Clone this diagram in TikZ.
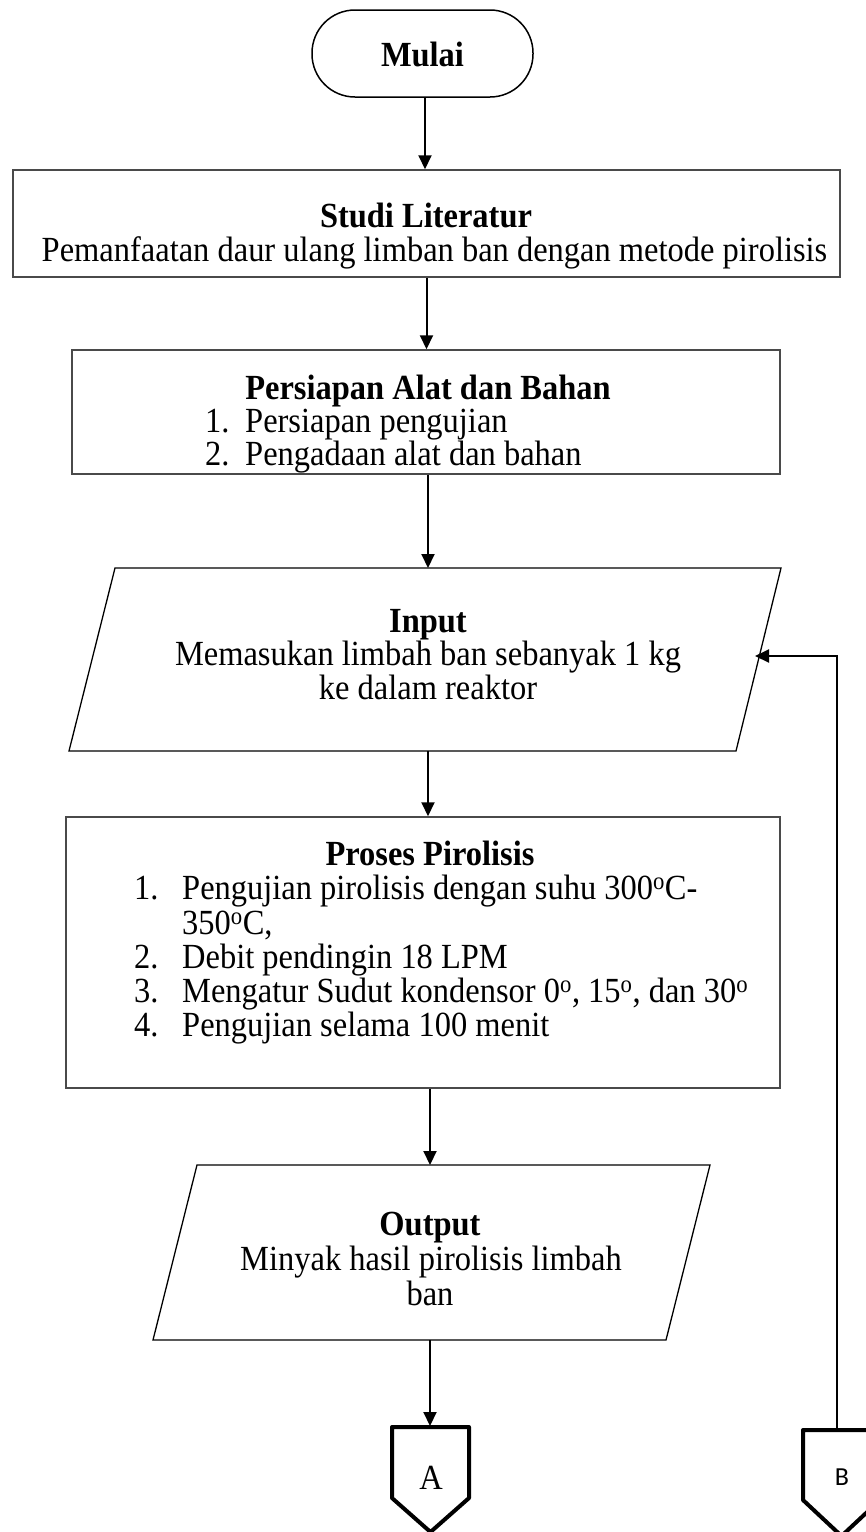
\documentclass[tikz,border=0pt]{standalone}
\usepackage{fontspec}
\setmainfont[FakeStretch=0.92]{Liberation Serif}
\newfontfamily\sansB{Carlito}
\usetikzlibrary{arrows.meta,calc}
\newcommand\fsz{\fontsize{35.3}{34.5}\selectfont}
\definecolor{boxgray}{HTML}{4A4A4A}
\begin{document}
\begin{tikzpicture}[x=1pt,y=-1pt,
  box/.style={draw=boxgray, line width=1.5pt, inner sep=0pt},
  para/.style={draw=black, line width=1.3pt, line join=miter},
  conn/.style={draw=black, line width=4pt, line join=round},
  arr/.style={draw=black, line width=2pt, -{Triangle[length=14pt,width=13pt]}},
  txt/.style={anchor=base, inner sep=0pt, font=\fsz},
  btxt/.style={anchor=base, inner sep=0pt, font=\fsz\bfseries},
  ltxt/.style={anchor=base west, inner sep=0pt, font=\fsz}]
\useasboundingbox (0,0) rectangle (866,1532);
\begin{scope}
\clip (0,0) rectangle (866,1532);
% shapes
\node[draw=black, line width=1.5pt, rounded corners=43pt, minimum width=221pt, minimum height=87pt, inner sep=0pt] (mulai) at (422.5,53.5) {};
\node[box, minimum width=827pt, minimum height=107pt] (studi) at (426.5,223.5) {};
\node[box, minimum width=708pt, minimum height=124pt] (persiapan) at (426,412) {};
\node[box, minimum width=714pt, minimum height=271pt] (proses) at (423,952.5) {};
\draw[para] (115,568) -- (781,568) -- (736,751) -- (69,751) -- cycle;
\draw[para] (197,1165) -- (710,1165) -- (666,1340) -- (153,1340) -- cycle;
\draw[conn] (392,1427) -- (469,1427) -- (469,1498) -- (430.5,1532) -- (392,1498) -- cycle;
\draw[conn] (803,1430) -- (880,1430) -- (880,1500) -- (841.5,1536) -- (803,1500) -- cycle;
% named connection points
\coordinate (inTop) at (428,568);
\coordinate (inBot) at (428,751);
\coordinate (inRight) at (755,656);
\coordinate (outTop) at (430,1165);
\coordinate (outBot) at (430,1340);
\coordinate (aTop) at (430,1426);
\coordinate (bTop) at (837,1429);
% texts
\node[btxt] (tMulai) at (422.5,66) {Mulai};
\node[btxt] (tStudi) at (426,227) {Studi Literatur};
\node[txt] (tStudi2) at (434.5,261) {Pemanfaatan daur ulang limban ban dengan metode pirolisis};
\node[btxt] (tPers) at (428,399) {Persiapan Alat dan Bahan};
\node[ltxt] (pn1) at (205,432) {1.};
\node[ltxt] (pt1) at (245,432) {Persiapan pengujian};
\node[ltxt] (pn2) at (205,465) {2.};
\node[ltxt] (pt2) at (245,465) {Pengadaan alat dan bahan};
\node[btxt] (tIn) at (428,632) {Input};
\node[txt] (tIn2) at (428,665) {Memasukan limbah ban sebanyak 1 kg};
\node[txt] (tIn3) at (428,699) {ke dalam reaktor};
\node[btxt] (tPro) at (430,865) {Proses Pirolisis};
\node[ltxt] (rn1) at (134,899) {1.};
\node[ltxt] (rt1) at (182,899) {Pengujian pirolisis dengan suhu 300\textsuperscript{o}C-};
\node[ltxt] (rt1b) at (182,934) {350\textsuperscript{o}C,};
\node[ltxt] (rn2) at (134,968) {2.};
\node[ltxt] (rt2) at (182,968) {Debit pendingin 18 LPM};
\node[ltxt] (rn3) at (134,1002) {3.};
\node[ltxt] (rt3) at (182,1002) {Mengatur Sudut kondensor 0\textsuperscript{o}, 15\textsuperscript{o}, dan 30\textsuperscript{o}};
\node[ltxt] (rn4) at (134,1036) {4.};
\node[ltxt] (rt4) at (182,1036) {Pengujian selama 100 menit};
\node[btxt] (tOut) at (430,1235) {Output};
\node[txt] (tOut2) at (431,1270) {Minyak hasil pirolisis limbah};
\node[txt] (tOut3) at (430,1305) {ban};
\node[inner sep=0pt, font=\fsz] (tA) at (431,1478) {A};
\node[inner sep=0pt, font=\sansB\fontsize{26}{28}\selectfont] (tB) at (842,1477) {B};
% connectors
\draw[arr] ([xshift=2.5pt]mulai.south) -- ([xshift=2.5pt]mulai.south |- studi.north);
\draw[arr] (studi.south) -- (studi.south |- persiapan.north);
\draw[arr] ([xshift=2pt]persiapan.south) -- (inTop);
\draw[arr] (inBot) -- (inBot |- proses.north);
\draw[arr] ([xshift=7pt]proses.south) -- (outTop);
\draw[arr] (outBot) -- (aTop);
\draw[arr] (bTop) |- (inRight);
\end{scope}
\end{tikzpicture}
\end{document}
